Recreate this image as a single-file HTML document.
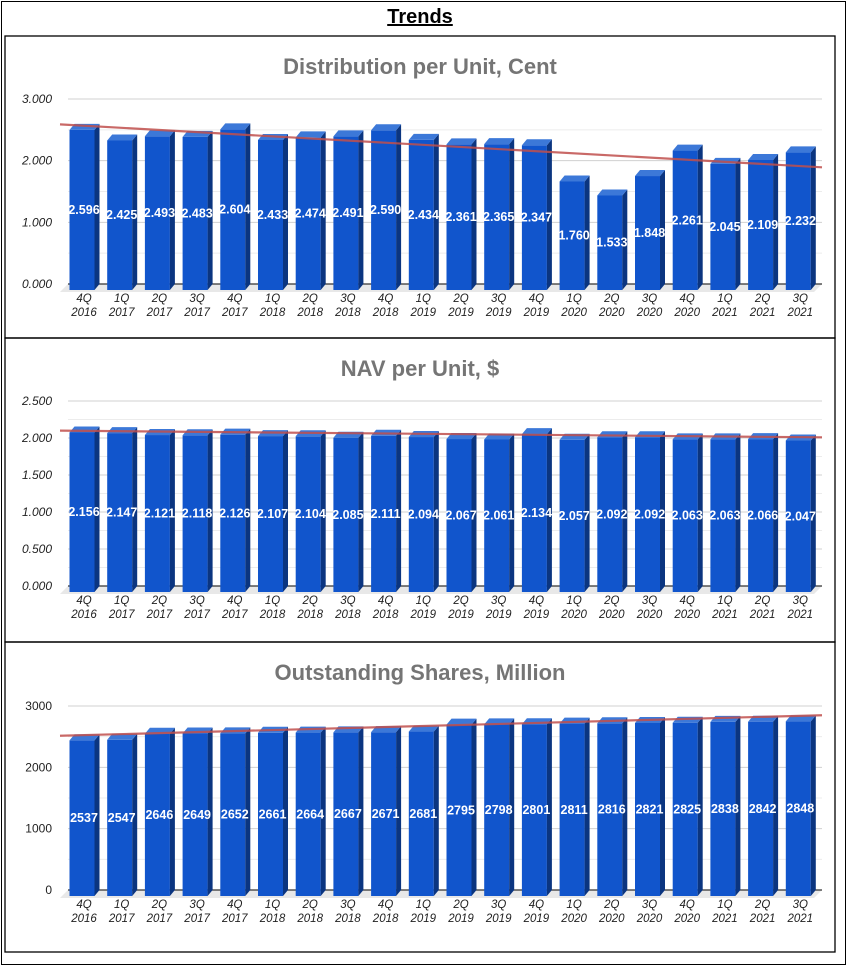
<!DOCTYPE html>
<html><head><meta charset="utf-8"><style>
body{margin:0;background:#fff;font-family:"Liberation Sans",sans-serif}
#outer{position:absolute;left:1px;top:1px;width:845px;height:964px;border:1px solid #000;box-sizing:border-box}
#ttl{position:absolute;left:0;top:6px;width:840px;text-align:center;font-weight:bold;font-size:20px;text-decoration:underline}
svg{position:absolute;left:0;top:0}
</style></head><body>
<div id="outer"></div>
<div id="ttl">Trends</div>
<svg id="s" width="850" height="971"></svg>
<script>
const categories=["4Q 2016","1Q 2017","2Q 2017","3Q 2017","4Q 2017","1Q 2018","2Q 2018","3Q 2018","4Q 2018","1Q 2019","2Q 2019","3Q 2019","4Q 2019","1Q 2020","2Q 2020","3Q 2020","4Q 2020","1Q 2021","2Q 2021","3Q 2021"];
const distValues=[2.596,2.425,2.493,2.483,2.604,2.433,2.474,2.491,2.590,2.434,2.361,2.365,2.347,1.760,1.533,1.848,2.261,2.045,2.109,2.232];
const navValues=[2.156,2.147,2.121,2.118,2.126,2.107,2.104,2.085,2.111,2.094,2.067,2.061,2.134,2.057,2.092,2.092,2.063,2.063,2.066,2.047];
const shareValues=[2537,2547,2646,2649,2652,2661,2664,2667,2671,2681,2795,2798,2801,2811,2816,2821,2825,2838,2842,2848];
const distTicks=[0,1,2,3];
const navTicks=[0,0.5,1,1.5,2,2.5];
const shareTicks=[0,1000,2000,3000];
const NS="http://www.w3.org/2000/svg";
const svg=document.getElementById('s');
function mk(t,a,p){const e=document.createElementNS(NS,t);for(const k in a)e.setAttribute(k,a[k]);(p||svg).appendChild(e);return e;}
function chart(o){
 const g=mk('g',{});
 
 
 const r=mk('rect',{x:5,y:o.top,width:830,height:o.h,fill:'none',stroke:'#000','stroke-width':1.3},g);
 
 
 const t=mk('text',{x:420,y:o.top+38,'text-anchor':'middle','font-size':22,'font-weight':'bold',fill:'#757575'},g);
 t.textContent=o.title;
 
 
 const x0=68,x1=822,max=o.ticks[o.ticks.length-1];
 const ys=v=>o.base-(v/max)*(o.base-o.ytop);
 const cw=(x1-x0)/categories.length;
 for(let i=0;i<o.ticks.length-1;i++){const m=(o.ticks[i]+o.ticks[i+1])/2;mk('line',{x1:x0,x2:x1,y1:ys(m),y2:ys(m),stroke:'#ececec'},g);}
 o.ticks.forEach((v,i)=>{
  if(i>0)mk('line',{x1:x0,x2:x1,y1:ys(v),y2:ys(v),stroke:'#d0d0d0'},g);
  const l=mk('text',{x:52,y:ys(v)+4,'text-anchor':'end','font-size':12,'font-style':o.italicTicks?'italic':'normal',fill:'#222'},g);
  l.textContent=o.fmt(v);
  
  
 });
 mk('polygon',{points:`${x0-8},${o.base+8} ${x0},${o.base} ${x1},${o.base} ${x1-8},${o.base+8}`,fill:'#e8e8e8'},g);
 mk('line',{x1:x0,x2:x1,y1:o.base,y2:o.base,stroke:'#333','stroke-width':1.2},g);
 o.values.forEach((v,i)=>{
  const bx=x0+i*cw+1.5,bw=25,d=6,top=ys(v)+d,bot=o.base+d;
  const b=mk('rect',{x:bx,y:top,width:bw,height:bot-top,fill:'#1155cc'},g);
  
  
  mk('polygon',{points:`${bx+bw},${top} ${bx+bw+5},${top-d} ${bx+bw+5},${bot-d} ${bx+bw},${bot}`,fill:'#0b3580'},g);
  mk('polygon',{points:`${bx},${top} ${bx+5},${top-d} ${bx+bw+5},${top-d} ${bx+bw},${top}`,fill:'#3c78d8'},g);
  const lb=mk('text',{x:bx+bw/2+2,y:(top+bot)/2+4,'text-anchor':'middle','font-size':12.5,'font-weight':'bold',fill:'#fff'},g);
  lb.textContent=o.fmt(v);
  
  
  const parts=categories[i].split(' ');
  parts.forEach((p,j)=>{const c=mk('text',{x:bx+bw/2+2,y:o.base+18+j*14,'text-anchor':'middle','font-size':11.5,'font-style':'italic',fill:'#222'},g);c.textContent=p;
   
   });
 });
 const n=o.values.length;let sx=0,sy=0,sxy=0,sxx=0;
 o.values.forEach((v,i)=>{sx+=i;sy+=v;sxy+=i*v;sxx+=i*i;});
 const sl=(n*sxy-sx*sy)/(n*sxx-sx*sx),ic=(sy-sl*sx)/n;
 const ia=-0.7,ib=n;
 const tl=mk('line',{x1:x0-8,y1:ys(ic+sl*ia)+3,x2:x1,y2:ys(ic+sl*ib)+3,stroke:'#c0504d','stroke-width':2.2,opacity:0.85},g);
 
 
}
chart({name:'distribution-chart',title:'Distribution per Unit, Cent',top:36,h:302,ytop:99,base:284,values:distValues,ticks:distTicks,fmt:v=>v.toFixed(3),italicTicks:true});
chart({name:'nav-chart',title:'NAV per Unit, $',top:338,h:304,ytop:401,base:586,values:navValues,ticks:navTicks,fmt:v=>v.toFixed(3),italicTicks:true});
chart({name:'shares-chart',title:'Outstanding Shares, Million',top:642,h:310,ytop:706,base:890,values:shareValues,ticks:shareTicks,fmt:v=>String(v),italicTicks:false});
</script>
</body></html>
